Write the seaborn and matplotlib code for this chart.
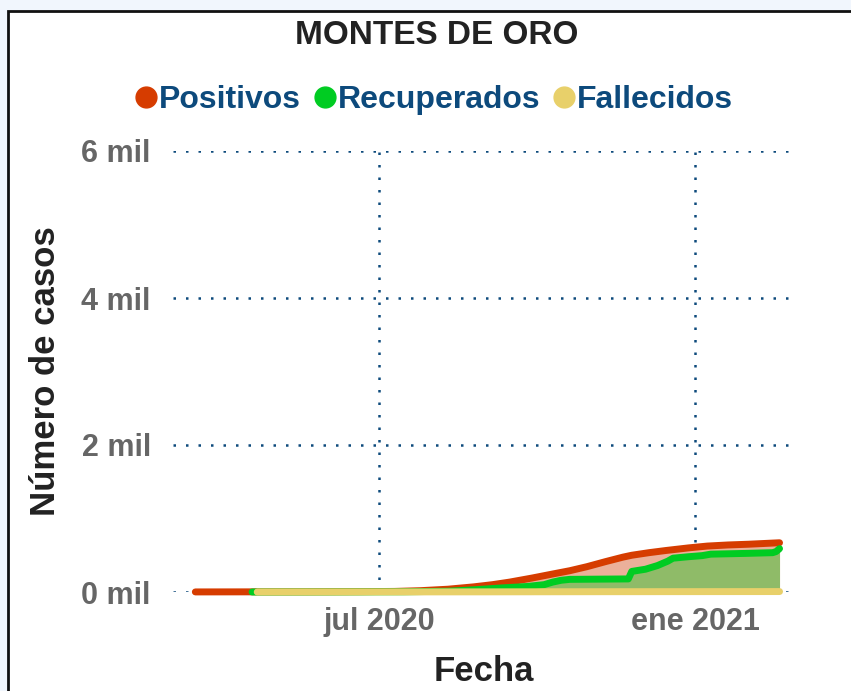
import pandas as pd
import matplotlib.pyplot as plt
from matplotlib.patches import Rectangle
from matplotlib.lines import Line2D
import seaborn as sns

# Values (cumulative cases, Montes de Oro)
pos_dates = ['2020-03-16', '2020-04-15', '2020-05-20', '2020-06-20', '2020-07-10', '2020-07-25',
             '2020-08-10', '2020-08-25', '2020-09-05', '2020-09-15', '2020-09-28', '2020-10-10',
             '2020-10-20', '2020-10-30', '2020-11-10', '2020-11-20', '2020-11-25', '2020-12-05',
             '2020-12-15', '2020-12-28', '2021-01-08', '2021-01-20', '2021-02-01', '2021-02-10',
             '2021-02-19']
pos_values = [1, 2, 3, 5, 8, 18, 38, 70, 100, 135, 190, 245, 290, 345, 415, 475, 500, 535,
              565, 600, 625, 640, 650, 660, 670]

rec_dates = ['2020-04-18', '2020-06-01', '2020-07-15', '2020-08-10', '2020-08-25', '2020-09-10',
             '2020-09-25', '2020-10-05', '2020-10-10', '2020-10-15', '2020-10-20', '2020-11-23',
             '2020-11-25', '2020-12-03', '2020-12-10', '2020-12-16', '2020-12-19', '2020-12-28',
             '2021-01-05', '2021-01-10', '2021-01-30', '2021-02-15', '2021-02-17', '2021-02-19']
rec_values = [0, 1, 3, 10, 30, 55, 75, 100, 135, 160, 172, 178, 280, 310, 360, 420, 460, 480,
              495, 515, 525, 535, 550, 590]

fal_dates = ['2020-04-21', '2020-09-01', '2020-11-01', '2021-02-19']
fal_values = [0, 2, 4, 6]

series_names = ['Positivos', 'Recuperados', 'Fallecidos']
series_colors = ['#d63c00', '#00cc22', '#e8d06a']
fill_colors = ['#ebb09a', '#8fbb68']

y_ticks = [0, 2000, 4000, 6000]
y_labels = ['0 mil', '2 mil', '4 mil', '6 mil']
x_ticks = ['2020-07-01', '2021-01-01']
x_labels = ['jul 2020', 'ene 2021']

df_pos = pd.DataFrame({'fecha': pd.to_datetime(pos_dates), 'casos': pos_values})
df_rec = pd.DataFrame({'fecha': pd.to_datetime(rec_dates), 'casos': rec_values})
df_fal = pd.DataFrame({'fecha': pd.to_datetime(fal_dates), 'casos': fal_values})

sns.set_style('white')
plt.rcParams['font.family'] = ['Liberation Sans', 'DejaVu Sans']

fig = plt.figure(figsize=(8.51, 6.91), dpi=100)
fig.patch.set_facecolor('#f1f6fd')
# white card with black border behind everything
fig.patches.append(Rectangle((8 / 851, -0.01), 1.0, 1 - 11.5 / 691 + 0.01, transform=fig.transFigure,
                             facecolor='white', edgecolor='#111111', linewidth=2, zorder=-10))

ax = fig.add_axes([173 / 851, 99 / 691, 622 / 851, 441 / 691])
ax.set_facecolor('none')

ax.fill_between(df_pos['fecha'], df_pos['casos'], color=fill_colors[0], lw=0, zorder=1)
ax.fill_between(df_rec['fecha'], df_rec['casos'], color=fill_colors[1], lw=0, zorder=2)

for df, col, z in [(df_pos, series_colors[0], 4), (df_rec, series_colors[1], 5), (df_fal, series_colors[2], 6)]:
    sns.lineplot(data=df, x='fecha', y='casos', ax=ax, color=col, linewidth=5,
                 solid_capstyle='round', zorder=z, clip_on=False)

ax.set_xlim(pd.Timestamp('2020-03-03'), pd.Timestamp('2021-02-28'))
ax.set_ylim(0, 6000)

ax.set_yticks(y_ticks)
ax.set_yticklabels(y_labels)
ax.set_xticks(pd.to_datetime(x_ticks))
ax.set_xticklabels(x_labels)
ax.tick_params(axis='both', length=0, labelsize=22, labelcolor='#666666')
ax.tick_params(axis='y', pad=16)
ax.tick_params(axis='x', pad=11)
for lab in ax.get_xticklabels() + ax.get_yticklabels():
    lab.set_fontweight('bold')

ax.grid(True, color='#0d4a7c', linestyle=(0, (1, 4)), linewidth=1.8)
ax.set_axisbelow(True)
for s in ax.spines.values():
    s.set_visible(False)

ax.set_xlabel('Fecha', fontsize=25, fontweight='bold', color='#222222', labelpad=13)
ax.set_ylabel('Número de casos', fontsize=25, fontweight='bold', color='#222222', labelpad=14)

fig.text(437 / 851, 1 - 36 / 691, 'MONTES DE ORO', ha='center', va='center', fontsize=24,
         fontweight='bold', color='#222222')

handles = [Line2D([], [], marker='o', linestyle='', markersize=15, color=c) for c in series_colors]
leg = fig.legend(handles, series_names, loc='center', bbox_to_anchor=(430 / 851, 1 - 100 / 691),
                 ncol=3, frameon=False, handletextpad=-0.2, columnspacing=0.15, handlelength=1.2,
                 prop={'weight': 'bold', 'size': 23})
for t in leg.get_texts():
    t.set_color('#0d4a7c')

fig.savefig('out.png', dpi=100, facecolor=fig.get_facecolor())
